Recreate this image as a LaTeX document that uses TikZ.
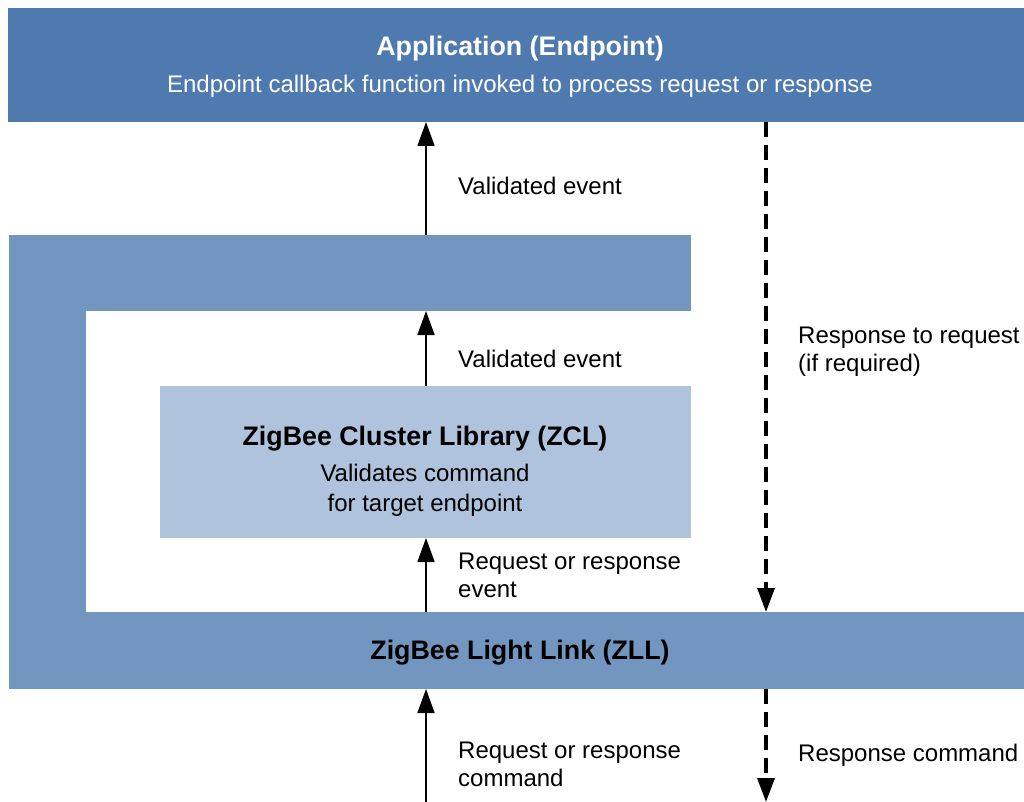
\documentclass[tikz,border=0pt]{standalone}
\usepackage{fontspec}
\setmainfont{Liberation Sans}
\usetikzlibrary{arrows.meta}
\definecolor{appblue}{RGB}{79,122,176}
\definecolor{zllblue}{RGB}{114,150,192}
\definecolor{zclblue}{RGB}{175,195,220}
\tikzset{
  band/.style={inner sep=0pt, outer sep=0pt, draw=none},
  lbl/.style={anchor=base west, inner sep=0pt, font=\fontsize{24}{28}\selectfont},
  ctr/.style={anchor=base, inner sep=0pt, font=\fontsize{24}{28}\selectfont},
  bctr/.style={anchor=base, inner sep=0pt, font=\fontsize{26.8}{30}\selectfont\bfseries},
  arr/.style={line width=1.6pt, -{Triangle[length=24pt,width=17pt]}},
  darr/.style={line width=3.2pt, dash pattern=on 15pt off 8pt, -{Triangle[length=24pt,width=17pt]}}
}
\begin{document}
\begin{tikzpicture}[x=1pt,y=-1pt]
\useasboundingbox (0,0) rectangle (1024,802);
% bands
\node[band, fill=appblue, minimum width=1016pt, minimum height=114pt] (app) at (516,65) {};
\node[band, fill=zllblue, minimum width=682pt, minimum height=76pt] (zllTop) at (350,273) {};
\node[band, fill=zllblue, minimum width=77pt, minimum height=454pt] (zllLeft) at (47.5,462) {};
\node[band, fill=zllblue, minimum width=1015pt, minimum height=77pt] (zllBot) at (516.5,650.5) {};
\node[band, fill=zclblue, minimum width=531pt, minimum height=152pt] (zcl) at (425.5,462) {};
% texts in bands
\node[bctr, text=white] (appT) at (520,56) {Application (Endpoint)};
\node[ctr, text=white] (appS) at (520,93) {Endpoint callback function invoked to process request or response};
\node[bctr] (zclT) at (425,445) {ZigBee Cluster Library (ZCL)};
\node[ctr] (zclS1) at (425,481) {Validates command};
\node[ctr] (zclS2) at (425,511) {for target endpoint};
\node[bctr] (zllT) at (520,659) {ZigBee Light Link (ZLL)};
% connector columns
\coordinate (ax) at (426,802);
\coordinate (dx) at (766,802);
\draw[arr] (ax) -- (ax |- zllBot.south);
\draw[arr] (ax |- zllBot.north) -- (ax |- zcl.south);
\draw[arr] (ax |- zcl.north) -- (ax |- zllTop.south);
\draw[arr] (ax |- zllTop.north) -- (ax |- app.south);
\draw[darr] (dx |- app.south) -- (dx |- zllBot.north);
\draw[darr] (dx |- zllBot.south) -- (dx);
% labels
\node[lbl] (l1) at (458,195) {Validated event};
\node[lbl] (l2) at (458,367) {Validated event};
\node[lbl] (l3a) at (458,569) {Request or response};
\node[lbl] (l3b) at (458,597) {event};
\node[lbl] (l4a) at (458,758) {Request or response};
\node[lbl] (l4b) at (458,786) {command};
\node[lbl] (r1a) at (798,343) {Response to request};
\node[lbl] (r1b) at (798,371) {(if required)};
\node[lbl] (r2) at (798,761) {Response command};
\end{tikzpicture}
\end{document}
